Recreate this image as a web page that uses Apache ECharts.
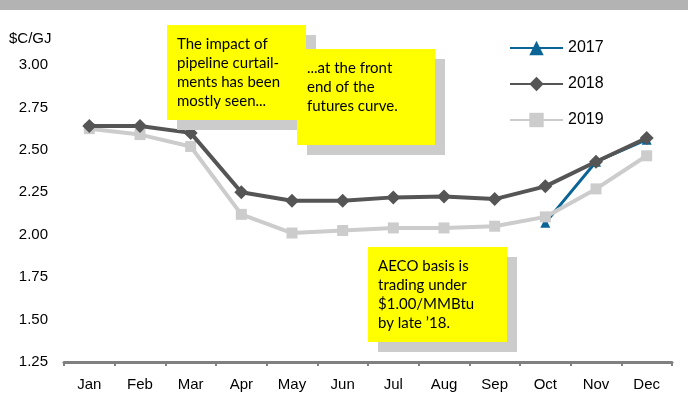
<!DOCTYPE html>
<html>
<head>
<meta charset="utf-8">
<script src="https://cdn.jsdelivr.net/npm/echarts@6/dist/echarts.min.js"></script>
<style>
  html, body { margin: 0; padding: 0; background: #fff; }
  #chart { width: 688px; height: 401px; }
</style>
</head>
<body>
<div id="chart"></div>
<script>
// AECO basis, $C/GJ
const months = ['Jan', 'Feb', 'Mar', 'Apr', 'May', 'Jun', 'Jul', 'Aug', 'Sep', 'Oct', 'Nov', 'Dec'];
const y2017 = [null, null, null, null, null, null, null, null, null, 2.07, 2.43, 2.56];
const y2018 = [2.64, 2.64, 2.60, 2.25, 2.20, 2.20, 2.22, 2.225, 2.21, 2.285, 2.43, 2.57];
const y2019 = [2.625, 2.59, 2.52, 2.12, 2.01, 2.025, 2.04, 2.04, 2.05, 2.105, 2.27, 2.465];
const yTicks = [1.25, 1.50, 1.75, 2.00, 2.25, 2.50, 2.75, 3.00];

const noteFont = '15px Lato, "DejaVu Sans", sans-serif';

// yellow sticky note with grey shadow
function note(x, y, w, h, text, z) {
  return [
    {type: 'rect', shape: {x: x + 10, y: y + 10, width: w, height: h}, style: {fill: '#cccccc'}, z: z},
    {type: 'rect', shape: {x: x, y: y, width: w, height: h}, style: {fill: '#ffff00'}, z: z + 1},
    {type: 'text', left: x + 10, top: y + 10, z: z + 2,
      style: {text: text, font: noteFont, fill: '#000', lineHeight: 19}}
  ];
}

const chart = echarts.init(document.getElementById('chart'));

chart.setOption({
  animation: false,
  grid: {left: 64, right: 16, top: 65, bottom: 39},
  legend: {
    orient: 'vertical',
    left: 504,
    top: 35,
    itemWidth: 53,
    itemHeight: 18,
    itemGap: 20,
    textStyle: {fontFamily: '"Liberation Sans", Arial, sans-serif', fontSize: 16, color: '#000'},
    data: ['2017', '2018', '2019']
  },
  graphic: [
    {type: 'rect', shape: {x: 0, y: 0, width: 688, height: 10}, style: {fill: '#b3b3b3'}},
    {type: 'text', left: 9, top: 31,
      style: {text: '$C/GJ', font: '15px "Liberation Sans", Arial, sans-serif', fill: '#000'}},
    ...note(167, 25, 139, 95, 'The impact of\npipeline curtail-\nments has been\nmostly seen...', 10),
    ...note(297, 49, 138, 96, '...at the front\nend of the\nfutures curve.', 20),
    ...note(368, 247, 139, 95, 'AECO basis is\ntrading under\n$1.00/MMBtu\nby late \u201918.', 10)
  ],
  xAxis: {
    type: 'category',
    data: months,
    boundaryGap: true,
    axisLine: {lineStyle: {color: '#808080', width: 3, cap: 'round'}},
    axisTick: {show: true, length: 4, lineStyle: {color: '#808080', width: 2}},
    axisLabel: {fontFamily: '"Liberation Sans", Arial, sans-serif', fontSize: 15, color: '#000', margin: 15}
  },
  yAxis: {
    type: 'value',
    min: 1.25,
    max: 3.00,
    interval: 0.25,
    axisLine: {show: false},
    axisTick: {show: false},
    splitLine: {show: false},
    axisLabel: {
      fontFamily: '"Liberation Sans", Arial, sans-serif',
      fontSize: 15,
      color: '#000',
      margin: 16,
      formatter: v => v.toFixed(2)
    }
  },
  series: [
    {
      name: '2017',
      type: 'line',
      data: y2017,
      z: 2,
      symbol: 'triangle',
      symbolSize: 10,
      lineStyle: {color: '#0a6496', width: 3},
      itemStyle: {color: '#0a6496'}
    },
    {
      name: '2019',
      type: 'line',
      data: y2019,
      z: 3,
      symbol: 'rect',
      symbolSize: 11,
      lineStyle: {color: '#cccccc', width: 4},
      itemStyle: {color: '#cccccc'}
    },
    {
      name: '2018',
      type: 'line',
      data: y2018,
      z: 4,
      symbol: 'diamond',
      symbolSize: 14,
      lineStyle: {color: '#555555', width: 4},
      itemStyle: {color: '#555555'}
    }
  ]
});
</script>
</body>
</html>
